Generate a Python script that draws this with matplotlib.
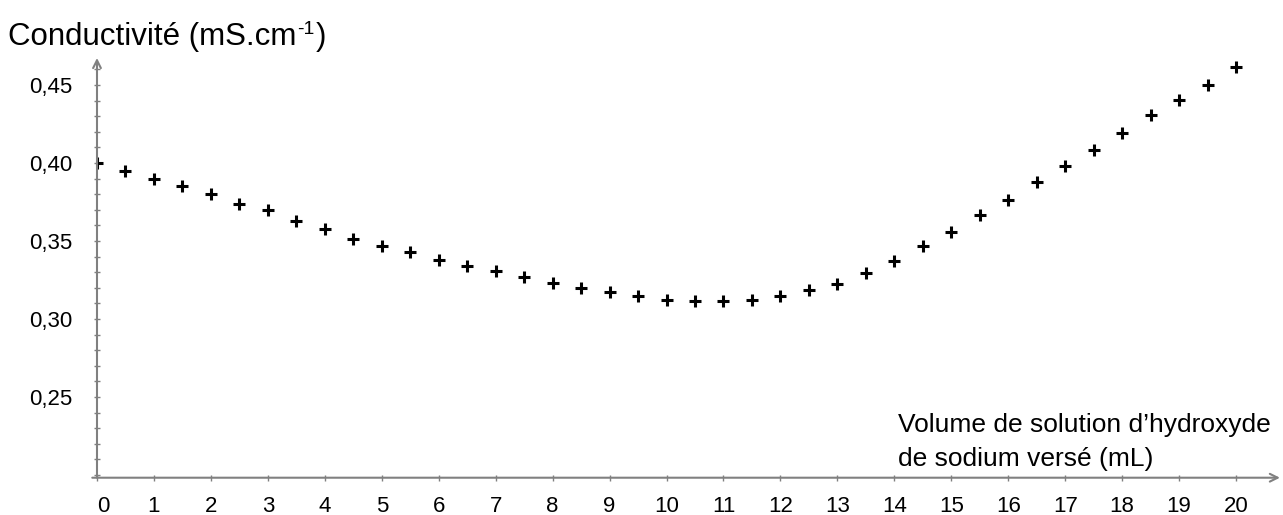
import matplotlib
matplotlib.use("Agg")
import matplotlib.pyplot as plt
from matplotlib.ticker import FixedLocator, FuncFormatter

plt.rcParams['font.family'] = ['Liberation Sans', 'DejaVu Sans']

# volume de soude versé (mL)
volume = [0, 0.5, 1, 1.5, 2, 2.5, 3, 3.5, 4, 4.5, 5, 5.5, 6, 6.5, 7, 7.5,
          8, 8.5, 9, 9.5, 10, 10.5, 11, 11.5, 12, 12.5, 13, 13.5, 14, 14.5,
          15, 15.5, 16, 16.5, 17, 17.5, 18, 18.5, 19, 19.5, 20]
# conductivité (mS/cm)
conductivite = [0.400, 0.395, 0.390, 0.385, 0.380, 0.374, 0.370, 0.363,
                0.358, 0.351, 0.347, 0.343, 0.338, 0.334, 0.331, 0.327,
                0.323, 0.320, 0.3175, 0.3145, 0.312, 0.3117, 0.3117, 0.312,
                0.3145, 0.3186, 0.3226, 0.3297, 0.337, 0.347, 0.356, 0.3667,
                0.3765, 0.388, 0.398, 0.4085, 0.4194, 0.431, 0.4404, 0.4503,
                0.4617]

xticks = list(range(0, 21))
yticks = [0.25, 0.30, 0.35, 0.40, 0.45]
yminor = [0.20 + 0.01 * i for i in range(27)]

axis_col = '#808080'

fig = plt.figure(figsize=(12.83, 5.15), dpi=100)
ax = fig.add_axes([0.0756, 0.0724, 0.9220, 0.8150])

ax.plot(volume, conductivite, linestyle='none', marker='+', color='black',
        markersize=9, markeredgewidth=2.2)

ax.set_xlim(0, 20.77)
ax.set_ylim(0.1983, 0.4673)

for s in ax.spines.values():
    s.set_visible(False)

# axes drawn as arrows
ax.annotate('', xy=(1, 0), xytext=(-0.004, 0), xycoords='axes fraction',
            arrowprops=dict(arrowstyle='->', color=axis_col, lw=1.5,
                            shrinkA=0, shrinkB=0, mutation_scale=14))
ax.annotate('', xy=(0, 1), xytext=(0, 0), xycoords='axes fraction',
            arrowprops=dict(arrowstyle='->', color=axis_col, lw=1.5,
                            shrinkA=0, shrinkB=0, mutation_scale=14))

ax.xaxis.set_major_locator(FixedLocator(xticks))
ax.yaxis.set_major_locator(FixedLocator(yticks))
ax.yaxis.set_minor_locator(FixedLocator(yminor))
ax.yaxis.set_major_formatter(FuncFormatter(lambda v, p: f"{v:.2f}".replace('.', ',')))

ax.tick_params(which='both', direction='inout', color=axis_col, width=1,
               labelsize=16, labelcolor='black')
ax.tick_params(which='major', length=5)
ax.tick_params(which='minor', length=4)
ax.tick_params(axis='x', pad=11)
ax.tick_params(axis='y', pad=15)

fig.canvas.draw()
ax.xaxis.get_major_ticks()[0].label1.set_horizontalalignment('left')

# titre avec exposant "-1" (trait d'union, pas signe moins)
renderer = fig.canvas.get_renderer()
t1 = fig.text(8 / 1283, 1 - 45 / 515, 'Conductivité (mS.cm', fontsize=22.5,
              va='baseline', ha='left')
bb = t1.get_window_extent(renderer)
t2 = fig.text((bb.x1 + 1) / 1283, 1 - 34 / 515, '-1', fontsize=14,
              va='baseline', ha='left')
bb2 = t2.get_window_extent(renderer)
fig.text((bb2.x1 + 1) / 1283, 1 - 45 / 515, ')', fontsize=22.5,
         va='baseline', ha='left')

fig.text(898 / 1283, 1 - 432 / 515, 'Volume de solution d’hydroxyde',
         fontsize=19, va='baseline', ha='left')
fig.text(898 / 1283, 1 - 466 / 515, 'de sodium versé (mL)',
         fontsize=19, va='baseline', ha='left')

fig.savefig('out.png', dpi=100, facecolor='white')
